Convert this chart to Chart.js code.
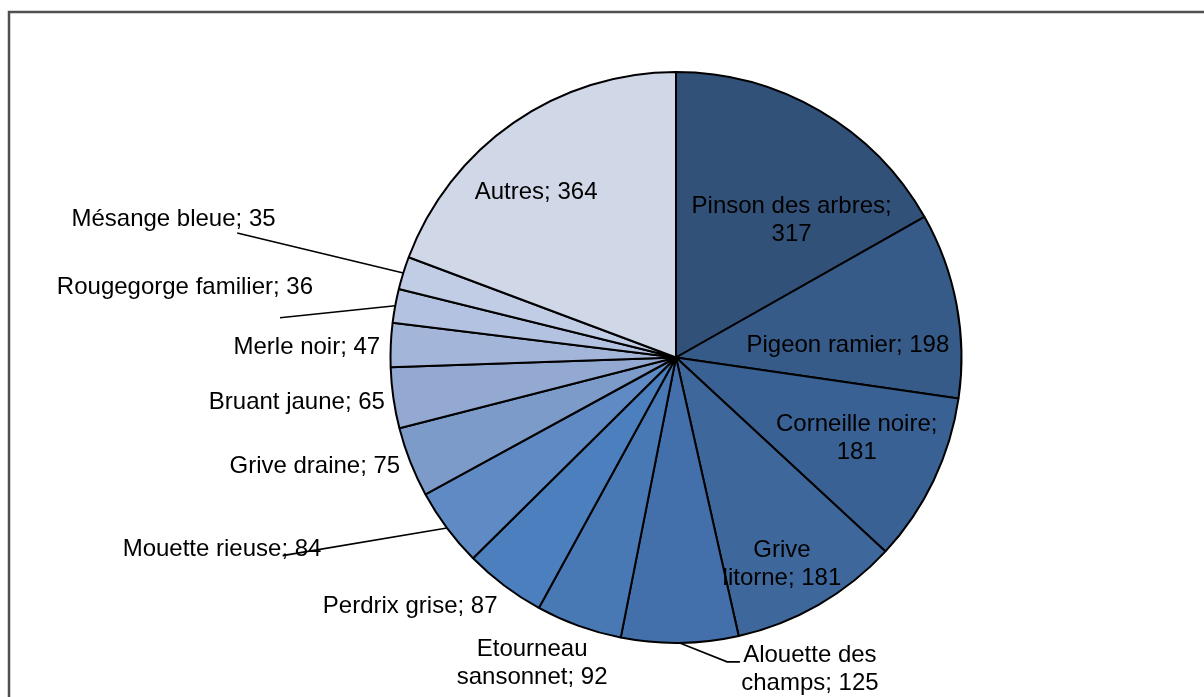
<!DOCTYPE html>
<html lang="fr">
<head>
<meta charset="utf-8">
<title>Oiseaux observés</title>
<script src="https://cdn.jsdelivr.net/npm/chart.js@4.4.1/dist/chart.umd.min.js"></script>
<style>
    html, body { margin: 0; padding: 0; background: #fff; }
    #wrap { position: relative; width: 1204px; height: 697px; }
</style>
</head>
<body>
<div id="wrap"><canvas id="birdChart" width="1204" height="697"></canvas></div>
<script>
// Species counts, clockwise from 12 o'clock
const species = [
    'Pinson des arbres', 'Pigeon ramier', 'Corneille noire', 'Grive litorne',
    'Alouette des champs', 'Etourneau sansonnet', 'Perdrix grise', 'Mouette rieuse',
    'Grive draine', 'Bruant jaune', 'Merle noir', 'Rougegorge familier',
    'Mésange bleue', 'Autres'
];
const counts = [317, 198, 181, 181, 125, 92, 87, 84, 75, 65, 47, 36, 35, 364];

const sliceColors = [
    '#325179', '#365b89', '#3a6194', '#3e679b', '#4370aa', '#4879b4', '#4b7fbd',
    '#5f8ac3', '#7c9bc9', '#94a9d2', '#a3b5d8', '#b3c2e0', '#c1cde5', '#d0d8e8'
];

// Label placement in units of the pie radius, relative to the centre.
// leader: extra points of the connector, which starts on the slice's arc.
const labelPlace = [
    { at: [0.405, -0.482], wrap: 220 },
    { at: [0.602, -0.044] },
    { at: [0.633, 0.283], wrap: 190 },
    { at: [0.371, 0.724], wrap: 125 },
    { at: [0.469, 1.093], wrap: 145, leader: [[0.179, 1.066], [0.224, 1.066]] },
    { at: [-0.504, 1.073], wrap: 160 },
    { at: [-0.931, 0.873] },
    { at: [-1.590, 0.673], leader: [[-1.378, 0.694]] },
    { at: [-1.265, 0.383] },
    { at: [-1.328, 0.156] },
    { at: [-1.293, -0.037] },
    { at: [-1.720, -0.247], leader: [[-1.387, -0.139]] },
    { at: [-1.760, -0.485], leader: [[-1.537, -0.436]] },
    { at: [-0.490, -0.578] }
];

function wrapText(ctx, text, maxWidth) {
    if (!maxWidth) return [text];
    const words = text.split(' ');
    const lines = [];
    let line = '';
    words.forEach(w => {
        const test = line ? line + ' ' + w : w;
        if (line && ctx.measureText(test).width > maxWidth) {
            lines.push(line);
            line = w;
        } else {
            line = test;
        }
    });
    if (line) lines.push(line);
    return lines;
}

const framePlugin = {
    id: 'frame',
    beforeDraw(chart) {
        const ctx = chart.ctx;
        ctx.save();
        ctx.strokeStyle = '#505050';
        ctx.lineWidth = 2.5;
        ctx.beginPath();
        ctx.moveTo(9, chart.height + 5);
        ctx.lineTo(9, 12);
        ctx.lineTo(chart.width + 5, 12);
        ctx.stroke();
        ctx.restore();
    }
};

const sliceLabels = {
    id: 'sliceLabels',
    afterDatasetsDraw(chart) {
        const ctx = chart.ctx;
        const meta = chart.getDatasetMeta(0);
        ctx.save();
        ctx.font = '24px "Liberation Sans", Arial, sans-serif';
        ctx.fillStyle = '#000';
        ctx.strokeStyle = '#000';
        ctx.lineWidth = 1.6;
        ctx.textAlign = 'center';
        ctx.textBaseline = 'middle';
        meta.data.forEach((arc, i) => {
            const p = arc.getProps(['x', 'y', 'outerRadius', 'startAngle', 'endAngle'], true);
            const r = p.outerRadius;
            const place = labelPlace[i];
            const text = species[i] + '; ' + counts[i];
            const lines = wrapText(ctx, text, place.wrap);
            const lx = p.x + place.at[0] * r;
            const ly = p.y + place.at[1] * r;
            lines.forEach((t, k) => {
                ctx.fillText(t, lx, ly + (k - (lines.length - 1) / 2) * 28);
            });
            if (place.leader) {
                const mid = (p.startAngle + p.endAngle) / 2;
                ctx.beginPath();
                ctx.moveTo(p.x + Math.cos(mid) * r, p.y + Math.sin(mid) * r);
                place.leader.forEach(pt => ctx.lineTo(p.x + pt[0] * r, p.y + pt[1] * r));
                ctx.stroke();
            }
        });
        ctx.restore();
    }
};

new Chart(document.getElementById('birdChart'), {
    type: 'pie',
    data: {
        labels: species,
        datasets: [{
            data: counts,
            backgroundColor: sliceColors,
            borderColor: '#000',
            borderWidth: 2,
            hoverOffset: 0
        }]
    },
    options: {
        responsive: false,
        animation: false,
        layout: { padding: { top: 71, bottom: 53, left: 300, right: 152 } },
        plugins: {
            legend: { display: false },
            tooltip: { enabled: false }
        }
    },
    plugins: [framePlugin, sliceLabels]
});
</script>
</body>
</html>
